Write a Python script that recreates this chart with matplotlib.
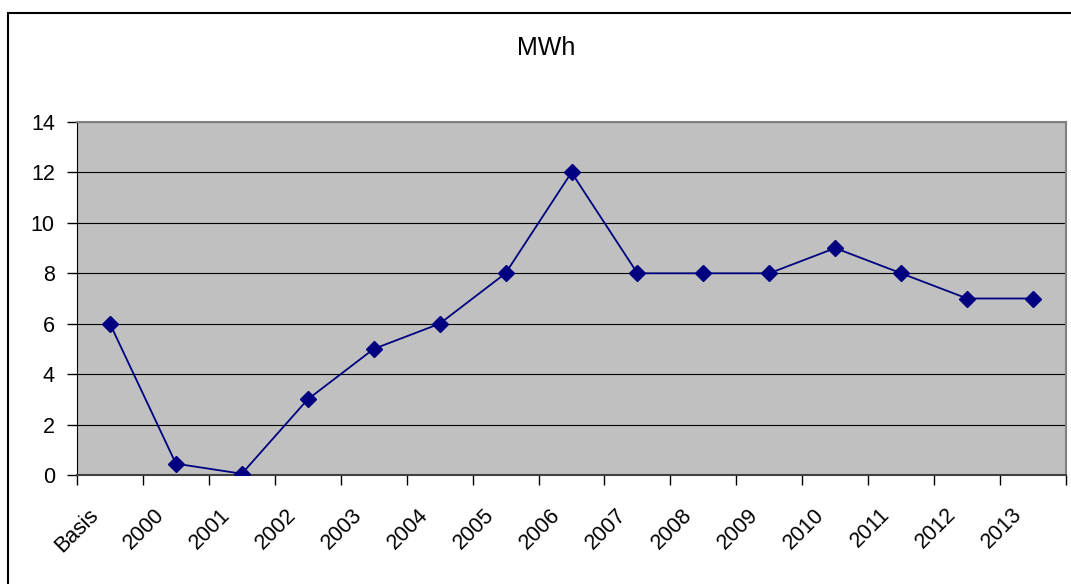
import matplotlib.pyplot as plt
import matplotlib.transforms as mtransforms
from matplotlib.patches import Rectangle

plt.rcParams['font.family'] = ['Liberation Sans', 'DejaVu Sans']

categories = ["Basis", "2000", "2001", "2002", "2003", "2004", "2005", "2006",
              "2007", "2008", "2009", "2010", "2011", "2012", "2013"]
mwh = [6, 0.45, 0.05, 3, 5, 6, 8, 12, 8, 8, 8, 9, 8, 7, 7]

W, H = 1071, 584
fig = plt.figure(figsize=(W / 100, H / 100), dpi=100)

# outer chart border (runs off the right and bottom edge)
fig.patches.append(Rectangle((8 / W, -0.05), 1.2, 1 - 13 / H + 0.05,
                             transform=fig.transFigure, fill=False,
                             edgecolor='black', linewidth=1.5))

left, right, top, bottom = 77, 1066, 122, 475
ax = fig.add_axes([left / W, 1 - bottom / H, (right - left) / W, (bottom - top) / H])
ax.set_facecolor('#c0c0c0')

x = [i + 0.5 for i in range(len(categories))]
ax.plot(x, mwh, color='#000080', linewidth=1.3, marker='D', markersize=8,
        markerfacecolor='#000080', markeredgecolor='#000080', zorder=3)

ax.set_xlim(0, len(categories))
ax.set_ylim(0, 14)
ax.set_yticks(range(0, 15, 2))
ax.yaxis.grid(True, color='black', linewidth=0.8)
ax.set_axisbelow(True)

ax.set_xticks(range(len(categories) + 1))
ax.set_xticklabels([])
ax.set_xticks(x, minor=True)
ax.set_xticklabels(categories, minor=True, rotation=45, ha='right',
                   rotation_mode='anchor', fontsize=15.5)
ax.tick_params(axis='x', which='minor', length=0, pad=16)
ax.tick_params(axis='x', which='major', length=7, width=1, color='black')
ax.tick_params(axis='y', length=7, width=1, labelsize=15.5, pad=9)

# nudge rotated labels left/down like the original
shift = mtransforms.ScaledTranslation(-22 / 100, -7 / 100, fig.dpi_scale_trans)
for lbl in ax.get_xticklabels(minor=True):
    lbl.set_transform(lbl.get_transform() + shift)

for side in ['top', 'right']:
    ax.spines[side].set_color('#808080')
    ax.spines[side].set_linewidth(1.5)
ax.spines['left'].set_color('black')
ax.spines['bottom'].set_color('#404040')
ax.spines['bottom'].set_linewidth(1.5)

fig.text(546 / W, 1 - 48 / H, 'MWh', ha='center', va='center', fontsize=18)

fig.savefig('out.png', dpi=100)
